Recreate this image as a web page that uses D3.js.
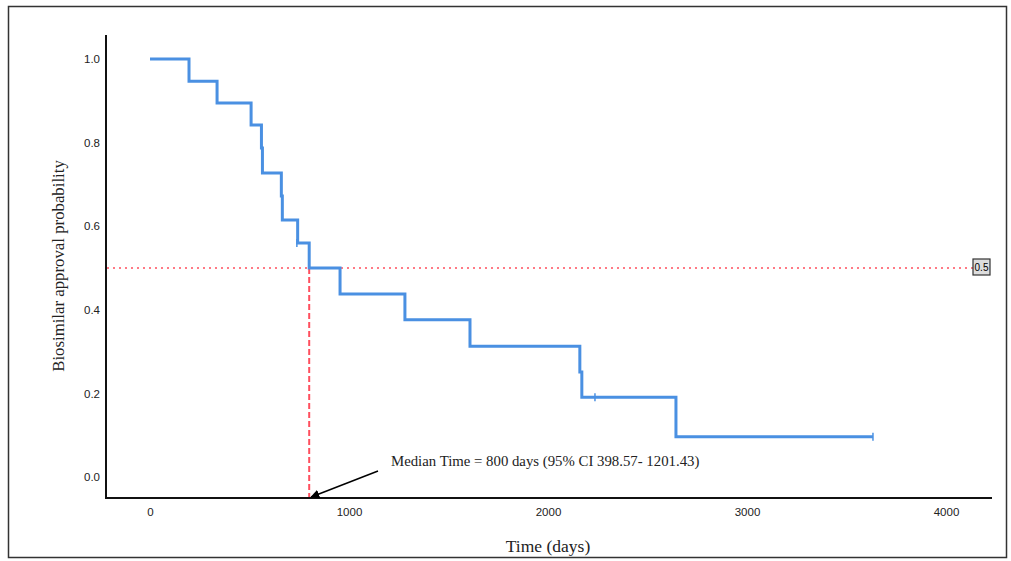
<!DOCTYPE html>
<html>
<head>
<meta charset="utf-8">
<script src="https://cdn.jsdelivr.net/npm/d3@7"></script>
<style>
  body { margin: 0; background: white; }
</style>
</head>
<body>
<script>
// Kaplan-Meier steps
const stepTimes = [0, 196, 337, 508, 560, 565, 660, 665, 742, 800, 955, 1281, 1608, 2160, 2170, 2643, 3633]
const stepSurv  = [1.0, 0.947, 0.895, 0.842, 0.787, 0.727, 0.672, 0.615, 0.56, 0.5, 0.438, 0.376, 0.313, 0.251, 0.191, 0.096, 0.096]
const censorTimes = [738, 2236, 3633]
const censorSurv  = [0.56, 0.191, 0.096]
const xTicks = [0, 1000, 2000, 3000, 4000]
const yTicks = [0.0, 0.2, 0.4, 0.6, 0.8, 1.0]
const medianTime = 800
const medianSurv = 0.5
const annotation = "Median Time = 800 days (95% CI 398.57- 1201.43)"

const [width, height] = [1011, 561]
const colors = {
    "curve": "#4a90e2",
    "ref": "#ff4f5e",
    "axis": "#111",
    "text": "#222"
}

const svg = d3.select("body").append("svg")
    .attr("width", width)
    .attr("height", height)

svg.append("rect")
    .attr("x", 8.5).attr("y", 6.5)
    .attr("width", 998).attr("height", 551)
    .attr("fill", "white")
    .attr("stroke", "#333")
    .attr("stroke-width", 1.5)

const x = d3.scaleLinear().domain([0, 4000]).range([150, 946])
const y = d3.scaleLinear().domain([0, 1]).range([477, 59])

// axes (labels only, lines drawn separately)
const xAxis = svg.append("g")
    .attr("transform", "translate(0,498)")
    .call(d3.axisBottom(x).tickValues(xTicks).tickSize(0).tickPadding(10).tickFormat(d3.format("d")))
xAxis.select(".domain").remove()
xAxis.selectAll("text").attr("font-family", "Liberation Sans, Arial").attr("font-size", 11.5).attr("fill", colors.text)

const yAxis = svg.append("g")
    .attr("transform", "translate(106,0)")
    .call(d3.axisLeft(y).tickValues(yTicks).tickSize(0).tickPadding(6).tickFormat(d3.format(".1f")))
yAxis.select(".domain").remove()
yAxis.selectAll("text").attr("font-family", "Liberation Sans, Arial").attr("font-size", 11.5).attr("fill", colors.text)

svg.append("line")
    .attr("x1", 106).attr("x2", 106).attr("y1", 35).attr("y2", 499)
    .attr("stroke", colors.axis).attr("stroke-width", 2)
svg.append("line")
    .attr("x1", 105).attr("x2", 992).attr("y1", 498).attr("y2", 498)
    .attr("stroke", colors.axis).attr("stroke-width", 2)

// reference lines
svg.append("line")
    .attr("x1", 107).attr("x2", 973)
    .attr("y1", y(medianSurv)).attr("y2", y(medianSurv))
    .attr("stroke", colors.ref).attr("stroke-width", 1.5)
    .attr("stroke-dasharray", "2,4")
svg.append("line")
    .attr("x1", x(medianTime)).attr("x2", x(medianTime))
    .attr("y1", y(medianSurv)).attr("y2", 497)
    .attr("stroke", colors.ref).attr("stroke-width", 2)
    .attr("stroke-dasharray", "6,3")

// "0.5" box label
const lab = svg.append("g").attr("transform", `translate(973,${y(medianSurv) - 9})`)
lab.append("rect").attr("width", 17).attr("height", 16)
    .attr("fill", "#ddd").attr("stroke", "#333").attr("stroke-width", 1.2)
lab.append("text").attr("x", 8.5).attr("y", 12)
    .attr("text-anchor", "middle")
    .attr("font-family", "Liberation Sans, Arial").attr("font-size", 10)
    .text("0.5")

// survival curve
const pts = stepTimes.map((t, i) => [t, stepSurv[i]])
svg.append("path")
    .datum(pts)
    .attr("fill", "none")
    .attr("stroke", colors.curve)
    .attr("stroke-width", 3)
    .attr("d", d3.line().x(d => x(d[0])).y(d => y(d[1])).curve(d3.curveStepAfter))

const cens = svg.append("g").attr("stroke", colors.curve).attr("stroke-width", 1.5)
censorTimes.forEach((t, i) => {
    cens.append("line")
        .attr("x1", x(t)).attr("x2", x(t))
        .attr("y1", y(censorSurv[i]) - 4).attr("y2", y(censorSurv[i]) + 4)
})

// annotation
svg.append("defs").append("marker")
    .attr("id", "arrow")
    .attr("viewBox", "0 0 10 10")
    .attr("refX", 9).attr("refY", 5)
    .attr("markerWidth", 6).attr("markerHeight", 6)
    .attr("orient", "auto")
    .append("path").attr("d", "M0,0L10,5L0,10z").attr("fill", "black")

svg.append("line")
    .attr("x1", 378).attr("y1", 471)
    .attr("x2", x(medianTime) + 2).attr("y2", 497)
    .attr("stroke", "black").attr("stroke-width", 1.5)
    .attr("marker-end", "url(#arrow)")

svg.append("text")
    .attr("x", 391).attr("y", 466)
    .attr("font-family", "Liberation Serif, Times New Roman")
    .attr("font-size", 14.8)
    .attr("fill", colors.text)
    .text(annotation)

// axis titles
svg.append("text")
    .attr("x", 548).attr("y", 552)
    .attr("text-anchor", "middle")
    .attr("font-family", "Liberation Serif, Times New Roman")
    .attr("font-size", 17.5)
    .attr("fill", colors.text)
    .text("Time (days)")

svg.append("text")
    .attr("transform", "translate(64,266) rotate(-90)")
    .attr("text-anchor", "middle")
    .attr("font-family", "Liberation Serif, Times New Roman")
    .attr("font-size", 16.8)
    .attr("fill", colors.text)
    .text("Biosimilar approval probability")
</script>
</body>
</html>
